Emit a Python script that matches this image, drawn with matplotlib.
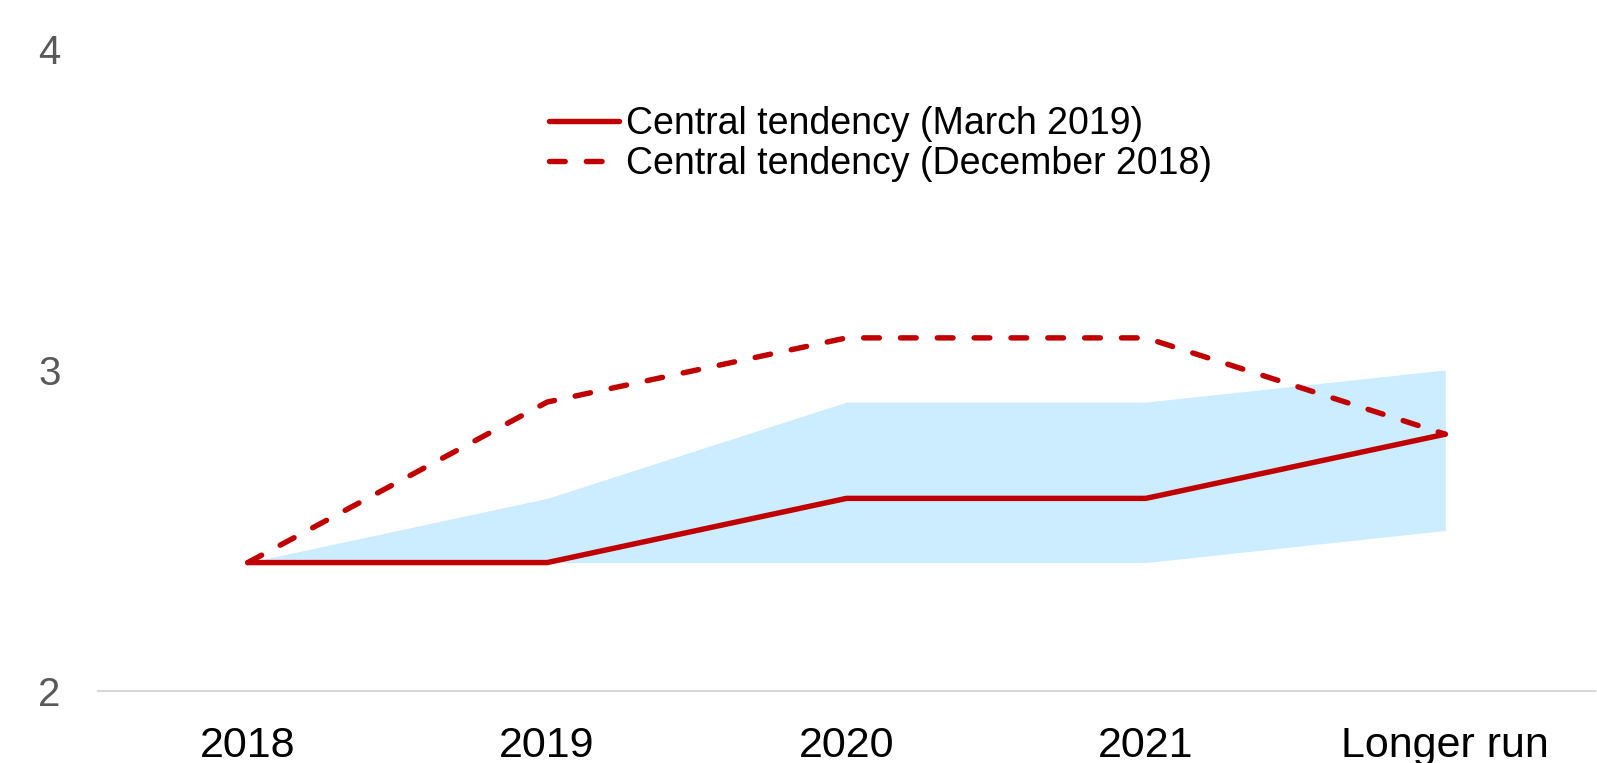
import numpy as np
import matplotlib.pyplot as plt

plt.rcParams['font.family'] = ['Liberation Sans', 'DejaVu Sans']

# datos
categorias = ["2018", "2019", "2020", "2021", "Longer run"]
marzo_2019 = [2.4, 2.4, 2.6, 2.6, 2.8]
diciembre_2018 = [2.4, 2.9, 3.1, 3.1, 2.8]
rango_bajo = [2.4, 2.4, 2.4, 2.4, 2.5]
rango_alto = [2.4, 2.6, 2.9, 2.9, 3.0]
yticks = [2, 3, 4]

rojo = '#C00000'
celeste = '#CCECFF'

fig = plt.figure(figsize=(15.97, 7.63), dpi=100)
ax = fig.add_axes([0.0614, 0.0944, 0.9373, 0.8414])

xs = np.arange(len(categorias))
ax.fill_between(xs, rango_bajo, rango_alto, color=celeste, linewidth=0)
ax.plot(xs, marzo_2019, color=rojo, lw=3.9, solid_capstyle='round',
        solid_joinstyle='round', label="Central tendency (March 2019)")
ax.plot(xs, diciembre_2018, color=rojo, lw=3.9, dashes=(2.9, 3.9),
        dash_capstyle='round', label="Central tendency (December 2018)")

ax.set_xlim(-0.5, 4.5)
ax.set_ylim(2, 4)
ax.set_xticks(xs)
ax.set_xticklabels(categorias, fontsize=31, color='black')
ax.set_yticks(yticks)
ax.set_yticklabels([str(v) for v in yticks], fontsize=29, color='#595959')
ax.tick_params(axis='both', length=0)
ax.tick_params(axis='x', pad=25)
ax.tick_params(axis='y', pad=27)
for lado in ['top', 'right', 'left']:
    ax.spines[lado].set_visible(False)
ax.spines['bottom'].set_color('#D9D9D9')
ax.spines['bottom'].set_linewidth(1.5)

ax.legend(loc='upper left', bbox_to_anchor=(0.344, 0.861),
          bbox_transform=fig.transFigure, frameon=False, fontsize=27,
          handlelength=1.85, handletextpad=0.2, labelspacing=0.1,
          borderpad=0, borderaxespad=0)

fig.savefig("out.png", dpi=100)
